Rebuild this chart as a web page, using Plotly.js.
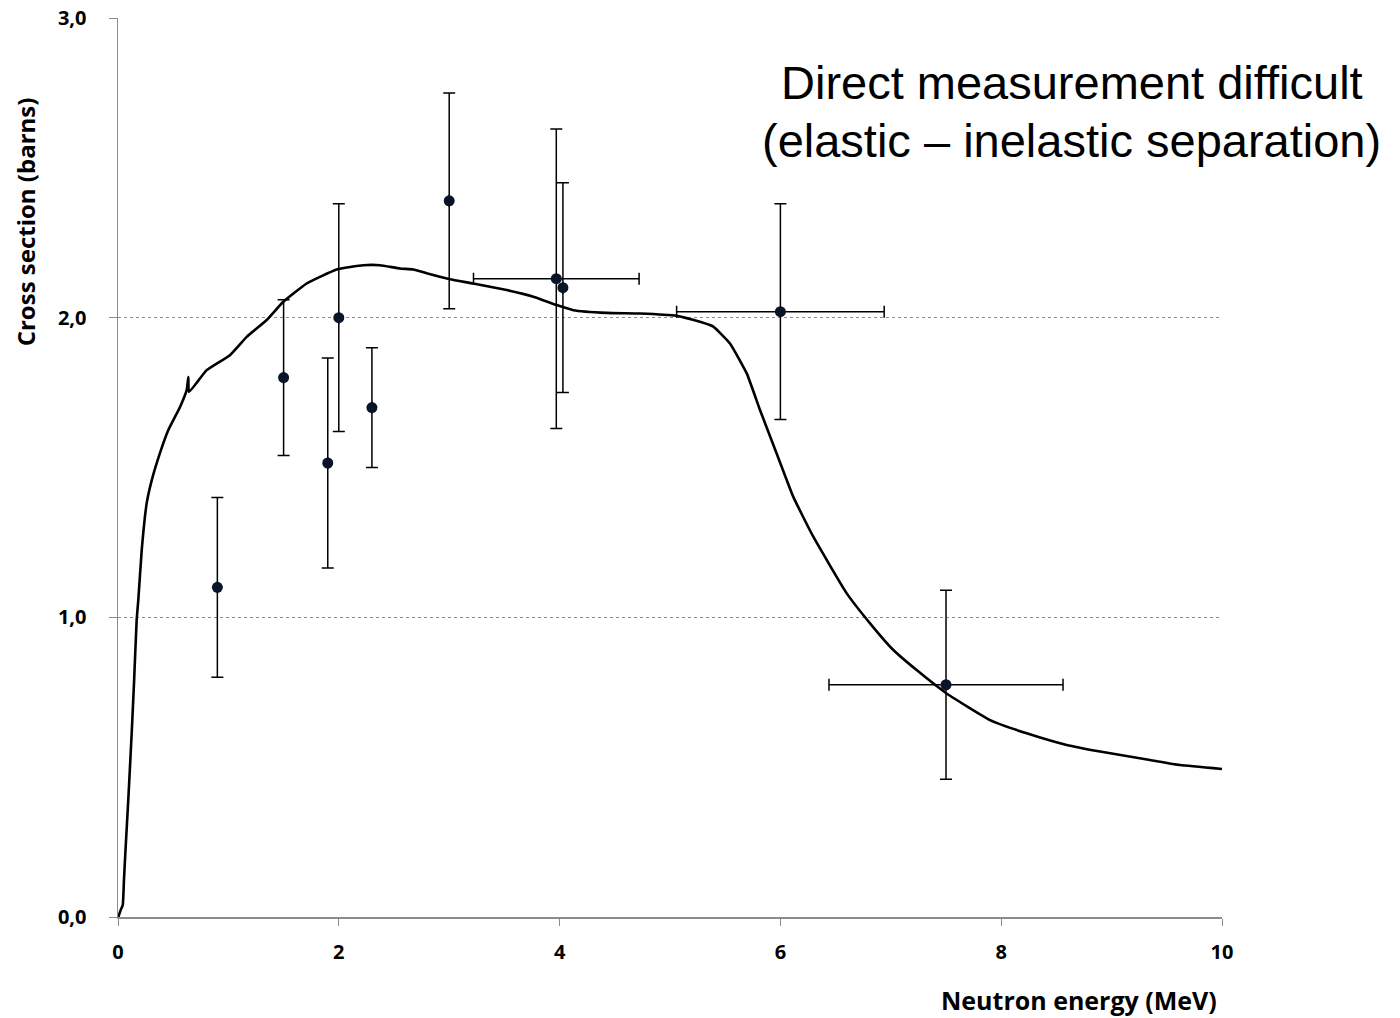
<!DOCTYPE html>
<html>
<head>
<meta charset="utf-8">
<script src="https://cdn.plot.ly/plotly-3.0.1.min.js"></script>
<style>html,body{margin:0;padding:0;background:#fff;}#chart{width:1400px;height:1018px;}</style>
</head>
<body>
<div id="chart"></div>
<script>
// Evaluated curve
var curveE = [0.003,0.024,0.043,0.054,0.068,0.093,0.124,0.145,0.169,0.184,0.215,0.260,0.306,0.380,0.456,0.562,0.622,0.637,0.643,0.803,1.014,1.166,1.347,1.497,1.709,1.981,2.222,2.373,2.554,2.675,2.796,3.007,3.218,3.521,3.762,3.974,4.124,4.427,4.728,5.061,5.272,5.392,5.543,5.695,5.815,5.966,6.117,6.298,6.601,6.812,7.023,7.234,7.506,7.899,8.231,8.593,8.895,9.348,9.620,10.0];
var curveS = [0.0,0.023,0.040,0.123,0.224,0.390,0.614,0.781,0.991,1.058,1.225,1.381,1.458,1.548,1.625,1.702,1.758,1.802,1.752,1.825,1.875,1.936,1.992,2.053,2.114,2.161,2.175,2.175,2.164,2.161,2.148,2.128,2.114,2.092,2.070,2.042,2.025,2.016,2.014,2.006,1.986,1.970,1.914,1.814,1.692,1.547,1.402,1.269,1.080,0.980,0.891,0.824,0.746,0.657,0.613,0.574,0.552,0.524,0.507,0.494];

// Measurements
var measE    = [0.9, 1.5, 1.9, 2.0, 2.3, 3.0, 3.97, 4.03, 6.0, 7.5];
var measS    = [1.10, 1.80, 1.515, 2.0, 1.70, 2.39, 2.13, 2.10, 2.02, 0.775];
var measErrS = [0.30, 0.26, 0.35, 0.38, 0.20, 0.36, 0.50, 0.35, 0.36, 0.315];
var measErrE = [0, 0, 0, 0, 0, 0, 0.75, 0, 0.94, 1.06];

var xTicks = [0, 2, 4, 6, 8, 10];
var xTickText = ["0", "2", "4", "6", "8", "10"];
var yTicks = [0, 1, 2, 3];
var yTickText = ["0,0", "1,0", "2,0", "3,0"];

var noteLines = ["Direct measurement difficult", "(elastic – inelastic separation)"];

var tickFont = {family: "'Open Sans', Lato, sans-serif", size: 20, color: "#000", weight: 700};
var xTitleFont = {family: "'Open Sans', Lato, sans-serif", size: 25, color: "#000", weight: 700};
var yTitleFont = {family: "'Open Sans', Lato, sans-serif", size: 24, color: "#000", weight: 700};
var noteFont = {family: "Liberation Sans, Arial, sans-serif", size: 47, color: "#000"};

var traces = [
  {
    x: curveE, y: curveS, type: "scatter", mode: "lines",
    line: {color: "#000", width: 2.6, shape: "spline", smoothing: 0.4},
    hoverinfo: "skip", showlegend: false
  },
  {
    x: measE, y: measS, type: "scatter", mode: "markers",
    marker: {color: "#0a1428", size: 11},
    error_y: {type: "data", array: measErrS, visible: true, color: "#000", thickness: 1.5, width: 6},
    error_x: {type: "data", array: measErrE, visible: true, color: "#000", thickness: 1.5, width: 6},
    showlegend: false
  }
];

var layout = {
  width: 1400, height: 1018,
  margin: {l: 118, r: 178, t: 18, b: 101},
  paper_bgcolor: "#fff", plot_bgcolor: "#fff",
  showlegend: false,
  xaxis: {
    range: [0, 10], tickvals: xTicks, ticktext: xTickText,
    showgrid: false, zeroline: false,
    showline: true, linecolor: "#8c8c8c", linewidth: 1.5,
    ticks: "outside", ticklen: 7, tickcolor: "#8c8c8c", tickwidth: 1,
    ticklabelstandoff: 9,
    tickfont: tickFont, fixedrange: true
  },
  yaxis: {
    range: [0, 3], tickvals: yTicks, ticktext: yTickText,
    showgrid: true, gridcolor: "#8c8c8c", griddash: "dot", gridwidth: 1,
    zeroline: false,
    showline: true, linecolor: "#8c8c8c", linewidth: 1.5,
    ticks: "outside", ticklen: 8, tickcolor: "#8c8c8c", tickwidth: 1,
    ticklabelstandoff: 18,
    tickfont: tickFont, fixedrange: true
  },
  annotations: [
    {
      text: noteLines[0],
      xref: "paper", yref: "paper", x: 0.864, y: 0.928, xanchor: "center", yanchor: "middle",
      showarrow: false, font: noteFont
    },
    {
      text: noteLines[1],
      xref: "paper", yref: "paper", x: 0.864, y: 0.864, xanchor: "center", yanchor: "middle",
      showarrow: false, font: noteFont
    },
    {
      text: "Cross section (barns)",
      xref: "paper", yref: "paper", x: -0.084, y: 0.773, xanchor: "center", yanchor: "middle",
      textangle: -90, showarrow: false,
      font: yTitleFont
    },
    {
      text: "Neutron energy (MeV)",
      xref: "paper", yref: "paper", x: 0.997, y: -0.092, xanchor: "right", yanchor: "middle",
      showarrow: false,
      font: xTitleFont
    }
  ]
};

Plotly.newPlot("chart", traces, layout, {displayModeBar: false, staticPlot: true});
</script>
</body>
</html>
